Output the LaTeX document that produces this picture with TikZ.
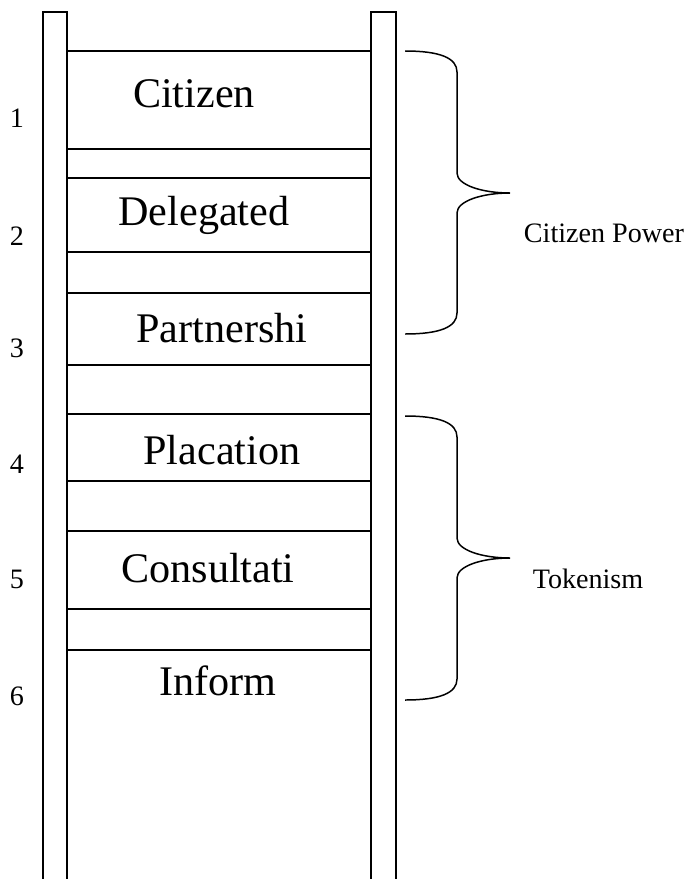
\documentclass[tikz,border=0pt]{standalone}
\usepackage{fontspec}
\setmainfont{Liberation Serif}
\usetikzlibrary{positioning}

% brace right of the ladder: top y, tip y, bottom y
\newcommand{\ladderbrace}[3]{%
  \draw (405,#1) .. controls (440,#1) and (457,#1+7) .. (457,#1+21)
        -- (457,#2-20) .. controls (457,#2-8) and (482,#2) .. (510,#2)
        .. controls (482,#2) and (457,#2+8) .. (457,#2+20)
        -- (457,#3-21) .. controls (457,#3-7) and (440,#3) .. (405,#3);}

\begin{document}
\begin{tikzpicture}[x=0.02cm, y=-0.02cm,
            every path/.style={line width=0.85pt},
            rungname/.style={anchor=base, inner sep=0pt, font=\fontsize{24}{28}\selectfont},
            sidelabel/.style={anchor=base, inner sep=0pt, font=\fontsize{16}{19}\selectfont}]
        \useasboundingbox (0,0) rectangle (685,879);
        % rails
        \draw (43,879) -- (43,12) -- (67,12) -- (67,879);
        \draw (371,879) -- (371,12) -- (396,12) -- (396,879);
        % rungs
        \foreach \y in {51,149,178,252,293,365,414,481,531,609,650}
            \draw (67,\y) -- (371,\y);
        % steps
        \node[rungname] (citizen)    at (194,107) {Citizen};
        \node[rungname] (delegated)  at (204,225) {Delegated};
        \node[rungname] (partner)    at (222,342) {Partnershi};
        \node[rungname] (placation)  at (222,464) {Placation};
        \node[rungname] (consult)    at (208,582) {Consultati};
        \node[rungname] (inform)     at (218,695) {Inform};
        % numbers
        \foreach \n/\y in {1/127,2/245,3/357,4/473,5/588,6/705}
            \node[sidelabel] (n\n) at (17,\y) {\n};
        % braces
        \ladderbrace{51}{193}{334}
        \ladderbrace{416}{558}{700}
        \node[sidelabel] (power)    at (604,242) {Citizen Power};
        \node[sidelabel] (tokenism) at (588,588) {Tokenism};
\end{tikzpicture}
\end{document}
